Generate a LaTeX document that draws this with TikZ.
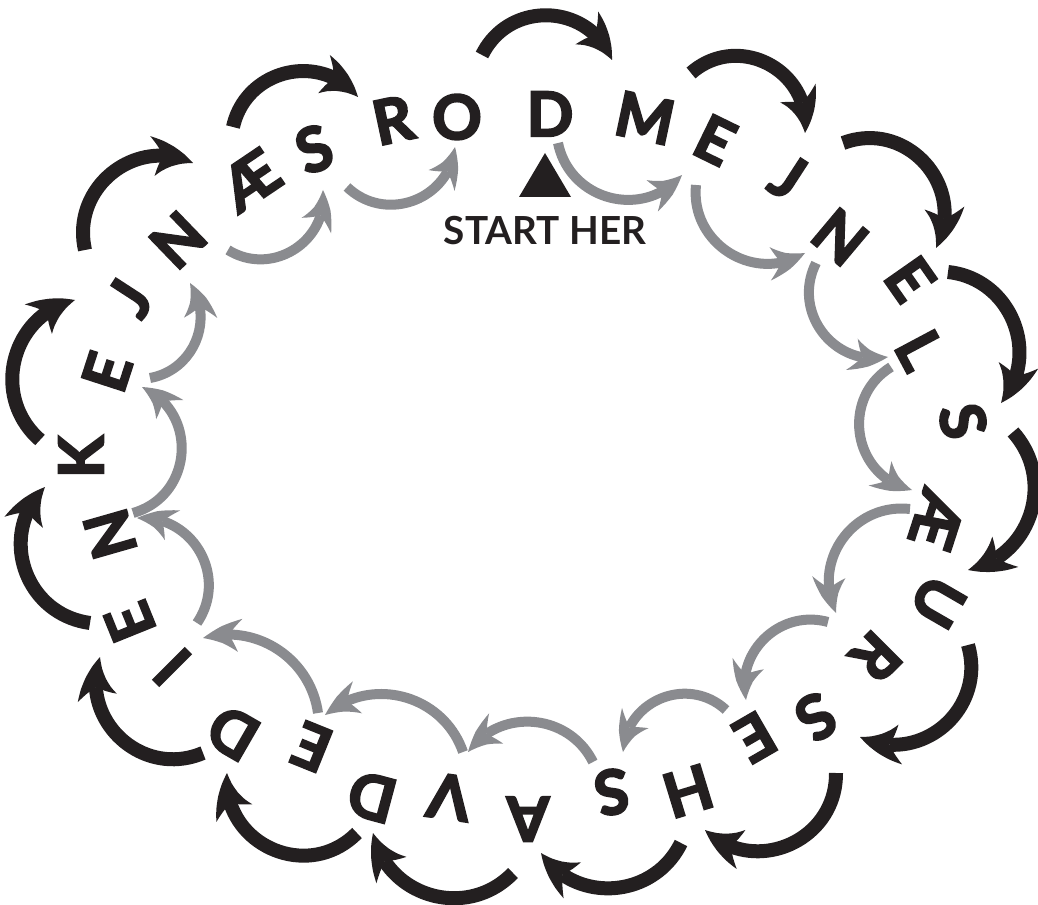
\documentclass[tikz,border=0pt]{standalone}
\usepackage{fontspec}
\setmainfont{Lato}
\newfontfamily\heavyfont{Lato}[BoldFeatures={FakeBold=3.5}]
\usetikzlibrary{arrows.meta,bending}
\definecolor{ink}{RGB}{35,31,32}
\definecolor{arrgray}{RGB}{138,139,143}
\newcommand\letterfont{\heavyfont\bfseries\fontsize{46}{46}\selectfont}
\newcommand\startfont{\bfseries\fontsize{29}{29}\selectfont}
\tikzset{
  ltr/.style={font=\letterfont, text=ink, inner sep=0pt, anchor=center},
  blk/.style={draw=ink, line width=10.5pt,
    -{Stealth[length=33pt,width=30pt,inset=9pt,line width=0pt,bend]}},
  gry/.style={draw=arrgray, line width=7.5pt,
    -{Stealth[length=29pt,width=25pt,inset=9pt,line width=0pt,bend]}},
}
\begin{document}
\begin{tikzpicture}[x=0.75pt,y=-0.75pt]
\useasboundingbox (0,0) rectangle (1038,905);
% letters
\foreach \ch/\px/\py/\r [count=\i] in {
  D/550/114/0, M/645/118/-12, E/715/140/-26, J/788/177/-33, N/840/237/-40,
  E/910/279/-55, L/920/350/-62, S/963/421/-78, Æ/937/520/-108, U/938/602/-120,
  R/876/657/-135, S/816/717/-147, E/755/737/-150, H/688/791/-163, S/612/792/-170,
  A/528/819/180, V/449/797/172, D/372/797/165, E/312/747/158, D/233/733/150,
  I/172/667/135, E/130/622/112, N/110/534/106, K/81/457/90, E/107/372/72,
  J/130/298/57, N/178/240/44, Æ/250/180/34, S/314/149/21, R/393/120/12,
  O/457/117/0}
  \node[ltr, rotate=\r] (L\i) at (\px,\py) {\ch};
% start marker
\fill[ink] (545,153) -- (571,197) -- (519,197) -- cycle;
\node[font=\startfont, text=ink, inner sep=0pt] (start) at (545,231) {START HER};
% outer black arrows
\foreach \sx/\sy/\ex/\ey/\b/\l in {
  482/55/612/60/66/1.21, 691/73/805/133/69/1.25, 843/143/936/248/69/1.25,
  948/272/1001/403/62/1.15, 1013/432/968/570/60/1.14, 968/645/860/737/66/1.21,
  836/773/705/830/67/1.22, 681/843/541/853/60/1.13, 513/873/373/833/62/1.16,
  357/833/227/773/70/1.27, 203/753/100/657/66/1.21, 90/623/45/487/64/1.19,
  40/440/75/300/63/1.17, 85/250/193/163/64/1.18, 233/127/358/97/64/1.18}
  \draw[blk] (\sx,\sy) to[bend left=\b, looseness=\l] (\ex,\ey);
% inner gray arrows
\foreach \sx/\sy/\ex/\ey/\b/\l in {
  558/143/682/175/64/1.18, 696/185/805/253/64/1.18, 816/263/888/357/64/1.19,
  891/367/912/490/68/1.24, 910/509/836/613/61/1.15, 828/622/746/700/59/1.12,
  726/710/623/752/65/1.19, 593/762/468/752/59/1.12, 463/752/325/715/56/1.09,
  318/713/203/638/49/1.03, 197/623/137/518/64/1.19, 133/513/142/387/70/1.27,
  150/378/190/283/57/1.10, 228/250/323/190/64/1.18, 347/187/455/147/64/1.18}
  \draw[gry] (\sx,\sy) to[bend right=\b, looseness=\l] (\ex,\ey);
\end{tikzpicture}
\end{document}
